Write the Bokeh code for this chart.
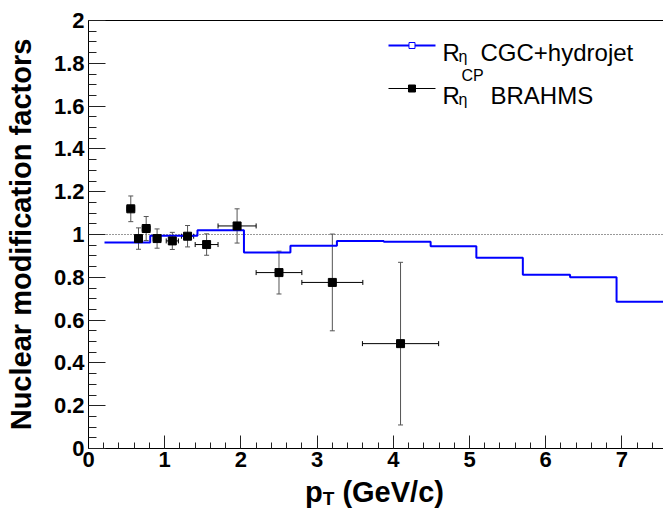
from bokeh.plotting import figure
from bokeh.layouts import column
from bokeh.models import (Range1d, LinearAxis, SingleIntervalTicker, FixedTicker,
                          CustomJSTickFormatter, Span, Whisker, TeeHead,
                          ColumnDataSource, Label, Div)
from bokeh.embed import file_html
from bokeh.resources import INLINE

# ---------------- data ----------------
# CGC+hydrojet histogram (bin edges and contents)
cgc_edges = [0.21, 0.81, 1.43, 2.04, 2.65, 3.26, 3.875, 4.49, 5.09, 5.70, 6.32, 6.93, 7.55]
cgc_vals = [0.963, 0.994, 1.02, 0.916, 0.947, 0.970, 0.966, 0.945, 0.891, 0.812, 0.800, 0.686]

# BRAHMS R_CP points
brahms_pt = [0.555, 0.656, 0.757, 0.90, 1.10, 1.30, 1.55, 1.95, 2.50, 3.20, 4.095]
brahms_val = [1.12, 0.981, 1.028, 0.981, 0.970, 0.992, 0.953, 1.04, 0.822, 0.776, 0.49]
brahms_yerr = [0.06, 0.05, 0.056, 0.045, 0.04, 0.05, 0.05, 0.08, 0.10, 0.226, 0.38]
brahms_xerr = [0.05, 0.05, 0.05, 0.05, 0.08, 0.08, 0.15, 0.25, 0.30, 0.40, 0.50]

x_ticks_major = 1
y_ticks_major = 0.2

FONT = "Liberation Sans"

# ---------------- figure ----------------
p = figure(width=663, height=478, x_range=Range1d(0, 7.546), y_range=Range1d(0, 2),
           output_backend="svg", toolbar_location=None,
           min_border_left=88, min_border_right=0, min_border_top=20, min_border_bottom=30)
p.outline_line_color = None
p.xgrid.visible = False
p.ygrid.visible = False
p.background_fill_color = "white"
p.border_fill_color = "white"

fmt = CustomJSTickFormatter(code="return (Math.round(tick*100)/100).toString();")

xa = p.xaxis[0]
xa.ticker = SingleIntervalTicker(interval=x_ticks_major, num_minor_ticks=5)
xa.formatter = fmt
xa.major_tick_in = 13
xa.major_tick_out = 0
xa.minor_tick_in = 6
xa.minor_tick_out = 0
xa.major_label_standoff = 3

ya = p.yaxis[0]
ya.ticker = SingleIntervalTicker(interval=y_ticks_major, num_minor_ticks=4)
ya.formatter = fmt
ya.major_tick_in = 17
ya.major_tick_out = 0
ya.minor_tick_in = 8
ya.minor_tick_out = 0
ya.major_label_standoff = 4
ya.axis_label = "Nuclear modification factors"
ya.axis_label_text_font = FONT
ya.axis_label_text_font_style = "bold"
ya.axis_label_text_font_size = "29px"
ya.axis_label_text_color = "black"
ya.axis_label_standoff = 14

for ax in (xa, ya):
    ax.axis_line_color = "black"
    ax.axis_line_width = 1
    ax.major_tick_line_color = "#222222"
    ax.minor_tick_line_color = "#222222"
    ax.major_label_text_font = FONT
    ax.major_label_text_font_style = "bold"
    ax.major_label_text_font_size = "22px"
    ax.major_label_text_color = "black"

top = LinearAxis(ticker=FixedTicker(ticks=[]), major_tick_in=0, major_tick_out=0,
                 minor_tick_in=0, minor_tick_out=0, major_label_text_font_size="0px",
                 axis_line_color="black")
p.add_layout(top, "above")

# reference line at 1
p.add_layout(Span(location=1, dimension="width", line_color="#333333",
                  line_dash="1 2", line_width=1, level="underlay"))

# CGC histogram
step_x = list(cgc_edges)
step_y = list(cgc_vals) + [cgc_vals[-1]]
p.step(step_x, step_y, mode="after", line_color="blue", line_width=2)

# BRAHMS points with errors
src = ColumnDataSource(dict(
    x=brahms_pt, y=brahms_val,
    yl=[v - e for v, e in zip(brahms_val, brahms_yerr)],
    yu=[v + e for v, e in zip(brahms_val, brahms_yerr)],
    xl=[x - e for x, e in zip(brahms_pt, brahms_xerr)],
    xu=[x + e for x, e in zip(brahms_pt, brahms_xerr)],
))
p.add_layout(Whisker(source=src, base="x", lower="yl", upper="yu", dimension="height",
                     line_color="#555555", line_width=1, level="underlay",
                     lower_head=TeeHead(size=5, line_color="#555555", line_width=1),
                     upper_head=TeeHead(size=5, line_color="#555555", line_width=1)))
p.add_layout(Whisker(source=src, base="y", lower="xl", upper="xu", dimension="width",
                     line_color="black", line_width=1, level="underlay",
                     lower_head=TeeHead(size=5, line_color="black", line_width=1),
                     upper_head=TeeHead(size=5, line_color="black", line_width=1)))
p.scatter("x", "y", source=src, marker="square", size=8, fill_color="black",
          line_color="black")

# ---------------- legend (drawn manually) ----------------
PX0 = 88.0      # canvas pixel of x=0
PXU = 76.2      # pixels per x unit
PY0 = 448.0     # canvas pixel of y=0
PYU = 214.0     # pixels per y unit

def dx(px):
    return (px - PX0) / PXU

def dy(py):
    return (PY0 - py) / PYU

p.line([dx(388), dx(435)], [dy(45), dy(45)], line_color="blue", line_width=2)
p.scatter([dx(411.5)], [dy(45)], marker="square", size=6, line_color="blue",
          fill_color="white", line_width=1)
p.line([dx(388), dx(435)], [dy(88), dy(88)], line_color="black", line_width=1)
p.scatter([dx(411.5)], [dy(88)], marker="square", size=7, line_color="black",
          fill_color="black")

def lab(px, py, text, size, style="normal"):
    p.add_layout(Label(x=dx(px), y=dy(py), text=text, text_font=FONT,
                       text_font_size=size, text_font_style=style,
                       text_color="black", text_align="left",
                       text_baseline="alphabetic"))

lab(442, 52, "R", "24px")
lab(458, 56, "η", "16px")
lab(480, 52, "CGC+hydrojet", "24px")
lab(442, 95, "R", "24px")
lab(461, 75, "CP", "16px")
lab(458, 99, "η", "16px")
lab(490, 95, "BRAHMS", "24px")

# x-axis title (with subscript) below the plot
title_html = (
    '<div style="position:relative; left:305px; top:0px; white-space:nowrap; '
    "font-family:'Liberation Sans', Arial, sans-serif; font-weight:bold; "
    'font-size:29px; line-height:28px; color:black;">'
    'p<span style="font-size:19px; position:relative; top:3px;">T</span> (GeV/c)</div>'
)
xtitle = Div(text=title_html, width=663, height=32, margin=0)

layout = column(p, xtitle, spacing=0)

open("out.html", "w").write(file_html(layout, INLINE))
